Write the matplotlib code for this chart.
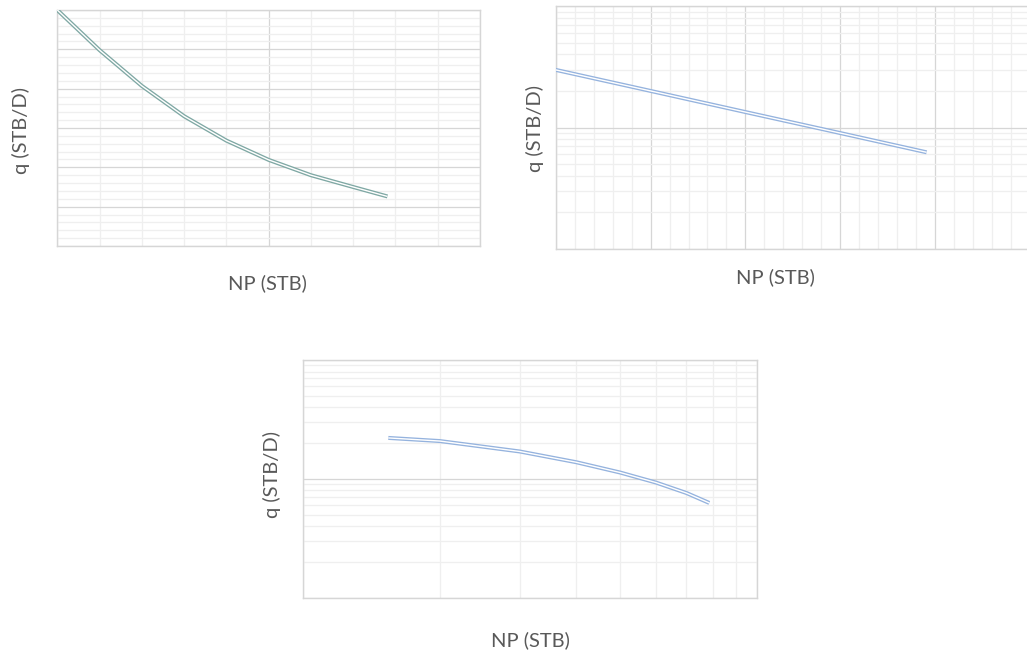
import matplotlib.pyplot as plt
from matplotlib.ticker import MultipleLocator, LogLocator, NullFormatter

# values (no tick labels shown, units are arbitrary)
np_1 = [0, 100, 200, 300, 400, 500, 600, 700, 781]
q_1 = [600, 498, 407, 330, 268, 219, 180, 150, 126]

np_2 = [0, 100000, 200000, 300000, 391000]
q_2 = [298, 200, 134, 90, 62.5]

np_3 = [154000, 200000, 300000, 400000, 500000, 600000, 700000, 786000]
q_3 = [221, 208, 170, 138, 113, 93, 76, 62.7]

xlabel = "NP (STB)"
ylabel = "q (STB/D)"

plt.rcParams['font.family'] = ['Lato', 'DejaVu Sans']

W, H = 1027, 655
fig = plt.figure(figsize=(W / 100, H / 100), dpi=100)


def px_axes(left, top, right, bottom):
    return fig.add_axes([left / W, 1 - bottom / H, (right - left) / W, (bottom - top) / H])


def style(ax):
    ax.tick_params(which='both', length=0, labelbottom=False, labelleft=False)
    ax.xaxis.set_minor_formatter(NullFormatter())
    ax.yaxis.set_minor_formatter(NullFormatter())
    ax.grid(which='minor', color='#efefef', lw=0.9)
    ax.grid(which='major', color='#d6d6d6', lw=0.9)
    ax.set_axisbelow(True)
    for s in ax.spines.values():
        s.set_color('#d6d6d6')
        s.set_linewidth(1.0)


def double_line(ax, x, y, color):
    # Excel style double line: coloured stroke with a white core
    ax.plot(x, y, color=color, lw=2.9, solid_capstyle='butt',
            solid_joinstyle='round', zorder=3)
    ax.plot(x, y, color='white', lw=1.0, solid_capstyle='butt',
            solid_joinstyle='round', zorder=4)


def labels(xpos, ypos):
    fig.text(xpos[0] / W, 1 - xpos[1] / H, xlabel, ha='center', va='center',
             fontsize=14.5, color='#595959')
    fig.text(ypos[0] / W, 1 - ypos[1] / H, ylabel, ha='center', va='center',
             rotation=90, fontsize=14.5, color='#595959')


# panel 1: cartesian
ax1 = px_axes(57.3, 10, 480, 246)
ax1.set_xlim(0, 1000)
ax1.set_ylim(0, 600)
ax1.xaxis.set_major_locator(MultipleLocator(500))
ax1.xaxis.set_minor_locator(MultipleLocator(100))
ax1.yaxis.set_major_locator(MultipleLocator(100))
ax1.yaxis.set_minor_locator(MultipleLocator(20))
style(ax1)
double_line(ax1, np_1, q_1, '#7fa8a4')
labels((267.5, 283), (20.5, 130))

# panel 2: semilog (axes runs past the right edge of the picture)
ax2 = px_axes(555.7, 6, 1030, 249)
ax2.set_xlim(0, 500000)
ax2.set_yscale('log')
ax2.set_ylim(10, 1000)
ax2.xaxis.set_major_locator(MultipleLocator(100000))
ax2.xaxis.set_minor_locator(MultipleLocator(20000))
ax2.yaxis.set_minor_locator(LogLocator(subs=range(2, 10)))
style(ax2)
double_line(ax2, np_2, q_2, '#95b3de')
labels((775, 277), (534.5, 128))

# panel 3: log-log
ax3 = px_axes(303.3, 360, 756.7, 597.7)
ax3.set_xscale('log')
ax3.set_yscale('log')
ax3.set_xlim(1e5, 1e6)
ax3.set_ylim(10, 1000)
ax3.xaxis.set_minor_locator(LogLocator(subs=range(2, 10)))
ax3.yaxis.set_minor_locator(LogLocator(subs=range(2, 10)))
style(ax3)
double_line(ax3, np_3, q_3, '#95b3de')
labels((530, 640), (272, 475))

fig.savefig('out.png', dpi=100)
